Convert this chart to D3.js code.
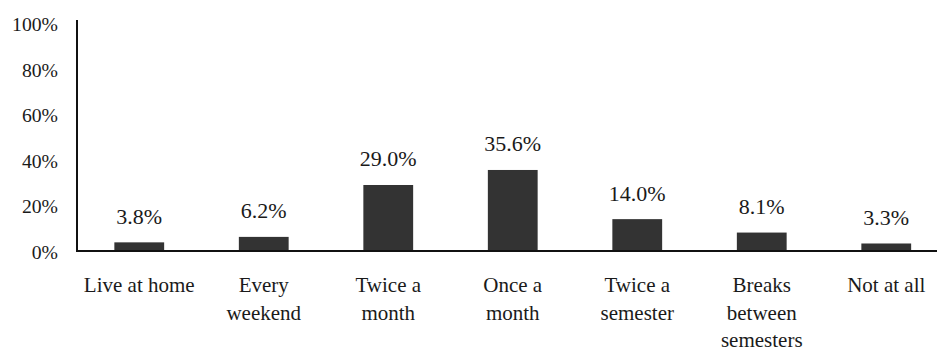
<!DOCTYPE html>
<html>
<head>
<meta charset="utf-8">
<script src="https://cdn.jsdelivr.net/npm/d3@7"></script>
<style>
  html, body { margin: 0; padding: 0; background: #fff; }
  svg { display: block; font-family: "Liberation Serif", "Times New Roman", serif; }
</style>
</head>
<body>
<svg id="chart" width="937" height="348"></svg>
<script>
// Visit frequency categories (line breaks as in the axis labels)
const categories = [
  ["Live at home"],
  ["Every", "weekend"],
  ["Twice a", "month"],
  ["Once a", "month"],
  ["Twice a", "semester"],
  ["Breaks", "between", "semesters"],
  ["Not at all"]
];
// Share of respondents, percent
const values = [3.8, 6.2, 29.0, 35.6, 14.0, 8.1, 3.3];
const yTicks = [0, 20, 40, 60, 80, 100];

const svg = d3.select("#chart");
const W = 937, H = 348;
const left = 77, baseY = 251, topY = 23.4, step = 124.5;

const keys = categories.map(c => c.join(" "));
const x = d3.scaleBand()
  .domain(keys)
  .range([left, left + step * keys.length])
  .paddingInner(0.6)
  .paddingOuter(0.3);

const y = d3.scaleLinear().domain([0, 100]).range([baseY, topY]);

// Bars
svg.append("g").selectAll("rect")
  .data(values)
  .join("rect")
  .attr("x", (d, i) => x(keys[i]))
  .attr("y", d => y(d))
  .attr("width", x.bandwidth())
  .attr("height", d => y(0) - y(d))
  .attr("fill", "#333333");

// Value labels
svg.append("g").selectAll("text")
  .data(values)
  .join("text")
  .attr("x", (d, i) => x(keys[i]) + x.bandwidth() / 2)
  .attr("y", d => y(d) - 18.5)
  .attr("text-anchor", "middle")
  .attr("font-size", 22)
  .attr("fill", "#1a1a1a")
  .text(d => d.toFixed(1) + "%");

// Y axis
const yAxis = d3.axisLeft(y)
  .tickValues(yTicks)
  .tickSize(0)
  .tickPadding(19)
  .tickFormat(d => d + "%");
const gy = svg.append("g").attr("transform", `translate(${left},0)`).call(yAxis);
gy.select(".domain").remove();
gy.selectAll("text")
  .attr("font-size", 19.7)
  .attr("font-family", "Liberation Serif, serif")
  .attr("fill", "#1a1a1a")
  .attr("dy", "0.38em");

svg.append("line")
  .attr("x1", left).attr("x2", left)
  .attr("y1", 20).attr("y2", baseY + 1)
  .attr("stroke", "#111").attr("stroke-width", 2);

// X axis baseline
svg.append("line")
  .attr("x1", left - 1).attr("x2", W)
  .attr("y1", baseY).attr("y2", baseY)
  .attr("stroke", "#111").attr("stroke-width", 2);

// Category labels
const xl = svg.append("g").selectAll("text")
  .data(categories)
  .join("text")
  .attr("x", (d, i) => x(keys[i]) + x.bandwidth() / 2)
  .attr("y", 292)
  .attr("text-anchor", "middle")
  .attr("font-size", 21)
  .attr("fill", "#1a1a1a");
xl.selectAll("tspan")
  .data(d => d)
  .join("tspan")
  .attr("x", function () { return this.parentNode.getAttribute("x"); })
  .attr("dy", (d, i) => i === 0 ? 0 : 27.5)
  .text(d => d);
</script>
</body>
</html>
